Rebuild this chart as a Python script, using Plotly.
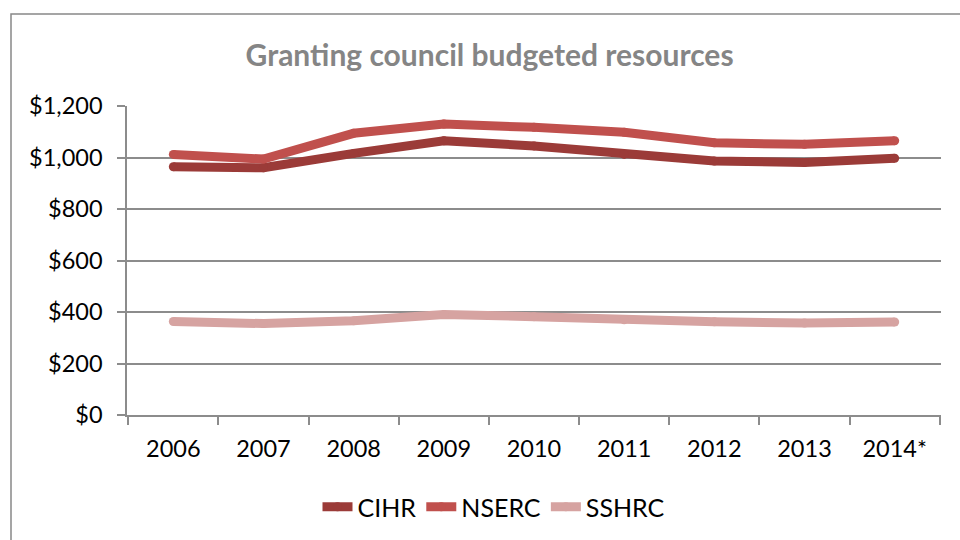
import plotly.graph_objects as go

years = ["2006", "2007", "2008", "2009", "2010", "2011", "2012", "2013", "2014*"]
cihr = [964, 960, 1016, 1065, 1045, 1012, 986, 981, 997]
nserc = [1012, 994, 1094, 1130, 1117, 1098, 1057, 1051, 1065]
sshrc = [363, 355, 366, 390, 382, 370, 362, 357, 361]

series = [("CIHR", cihr, "#9B3B38"), ("NSERC", nserc, "#C0504D"), ("SSHRC", sshrc, "#D6A3A1")]

FONT = "Lato, 'Open Sans', sans-serif"
GRID = "#8C8C8C"
LW = 9

fig = go.Figure()
for name, vals, col in series:
    fig.add_trace(go.Scatter(
        x=years, y=vals, name=name, mode="lines+markers",
        line=dict(color=col, width=LW),
        marker=dict(color=col, size=LW, line=dict(width=0)),
    ))

fig.update_layout(
    width=960, height=540,
    paper_bgcolor="white", plot_bgcolor="white",
    margin=dict(l=127, r=19, t=106, b=125, autoexpand=False),
    font=dict(family=FONT, size=23.5, color="#000000"),
    title=dict(text="<b>Granting council budgeted resources</b>", x=0.51, xanchor="center",
               y=1 - 55 / 540, yanchor="middle", xref="container", yref="container",
               font=dict(family=FONT, size=30, color="#858585")),
    showlegend=True,
    legend=dict(orientation="h", xref="container", yref="container",
                x=494 / 960, xanchor="center", y=1 - 507 / 540, yanchor="middle",
                font=dict(family=FONT, size=25, color="#000000"),
                itemwidth=30, tracegroupgap=0),
    xaxis=dict(type="category", showgrid=False, showline=True, linecolor=GRID, linewidth=1.5,
               ticks="outside", tickson="boundaries", ticklen=8, tickcolor=GRID, tickwidth=1.5,
               ticklabelstandoff=12, zeroline=False, automargin=False),
    yaxis=dict(range=[0, 1200], dtick=200, tickprefix="$", tickformat=",d",
               showgrid=True, gridcolor=GRID, gridwidth=1.5,
               showline=True, linecolor=GRID, linewidth=1.5,
               ticks="outside", ticklen=8, tickcolor=GRID, tickwidth=1.5,
               ticklabelstandoff=10, zeroline=False, automargin=False),
    shapes=[dict(type="rect", xref="paper", yref="paper",
                 x0=(11 - 127) / 814, x1=1.3, y0=-0.6, y1=(415 - 14) / 309,
                 line=dict(color="#888888", width=1.5), fillcolor="rgba(0,0,0,0)", layer="below")],
)

fig.write_html("out.html")
